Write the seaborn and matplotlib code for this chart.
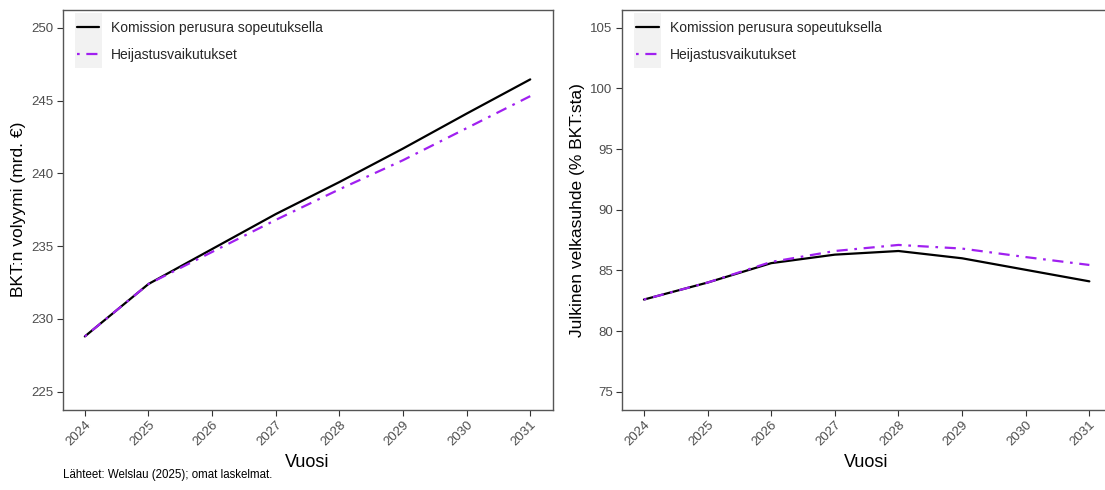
import matplotlib
matplotlib.use("Agg")
import matplotlib.pyplot as plt
import seaborn as sns
import pandas as pd
from matplotlib.patches import Rectangle
from matplotlib.lines import Line2D

years = [2024, 2025, 2026, 2027, 2028, 2029, 2030, 2031]
series_names = ["Komission perusura sopeutuksella", "Heijastusvaikutukset"]

# BKT:n volyymi (mrd. €)
gdp_base = [228.8, 232.4, 234.8, 237.2, 239.4, 241.7, 244.1, 246.45]
gdp_feedback = [228.8, 232.4, 234.6, 236.8, 238.9, 240.9, 243.1, 245.3]

# Julkinen velkasuhde (% BKT:sta)
debt_base = [82.6, 84.0, 85.6, 86.3, 86.6, 86.0, 85.05, 84.1]
debt_feedback = [82.6, 84.0, 85.7, 86.6, 87.1, 86.8, 86.1, 85.45]

gdp_df = pd.DataFrame({
    "Vuosi": years * 2,
    "arvo": gdp_base + gdp_feedback,
    "sarja": [series_names[0]] * len(years) + [series_names[1]] * len(years),
})
debt_df = pd.DataFrame({
    "Vuosi": years * 2,
    "arvo": debt_base + debt_feedback,
    "sarja": [series_names[0]] * len(years) + [series_names[1]] * len(years),
})

sns.set_theme(style="white")
plt.rcParams["font.family"] = ["Liberation Sans", "DejaVu Sans"]

colors = {series_names[0]: "black", series_names[1]: "#A020F0"}
dashes = {series_names[0]: "", series_names[1]: (1.2, 3, 5, 3)}

fig = plt.figure(figsize=(11.05, 4.9), dpi=100)
ax1 = fig.add_axes([0.0566, 0.1633, 0.4434, 0.8173])
ax2 = fig.add_axes([0.5626, 0.1633, 0.4434, 0.8173])

panels = [
    (ax1, gdp_df, (225, 250), "BKT:n volyymi (mrd. €)"),
    (ax2, debt_df, (75, 105), "Julkinen velkasuhde (% BKT:sta)"),
]

for ax, df, (lo, hi), ylab in panels:
    sns.lineplot(data=df, x="Vuosi", y="arvo", hue="sarja", style="sarja",
                 palette=colors, dashes=dashes, linewidth=1.6, ax=ax,
                 legend=False)
    pad_y = (hi - lo) * 0.05
    ax.set_ylim(lo - pad_y, hi + pad_y)
    ax.set_yticks(range(lo, hi + 1, 5))
    pad_x = (years[-1] - years[0]) * 0.05
    ax.set_xlim(years[0] - pad_x, years[-1] + pad_x)
    ax.set_xticks(years)
    ax.set_xticklabels([str(y) for y in years], rotation=45, ha="right",
                       rotation_mode="anchor")
    ax.tick_params(axis="both", which="both", length=4, width=0.8,
                   color="#333333", labelcolor="#4D4D4D", labelsize=9.5,
                   pad=2.5, bottom=True, left=True)
    ax.set_xlabel("Vuosi", fontsize=13, color="black", labelpad=4)
    ax.set_ylabel(ylab, fontsize=12.5, color="black", labelpad=4)
    for sp in ax.spines.values():
        sp.set_color("#555555")
        sp.set_linewidth(1.0)

    # grey legend key background like ggplot
    ax.add_patch(Rectangle((0.0255, 0.854), 0.055, 0.137, transform=ax.transAxes,
                           facecolor="#F2F2F2", edgecolor="none", zorder=0))
    handles = [
        Line2D([], [], color=colors[series_names[0]], lw=1.6),
        Line2D([], [], color=colors[series_names[1]], lw=1.6,
               dashes=(1.2, 3, 5, 3)),
    ]
    ax.legend(handles, series_names, loc="upper left",
              bbox_to_anchor=(0.03, 0.972), frameon=False, fontsize=10,
              handlelength=1.6, handletextpad=0.8, labelspacing=0.95,
              borderpad=0, borderaxespad=0)

fig.text(0.0566, 0.018, "Lähteet: Welslau (2025); omat laskelmat.",
         fontsize=8.3, color="black", ha="left", va="bottom")

fig.savefig("out.png", dpi=100)
